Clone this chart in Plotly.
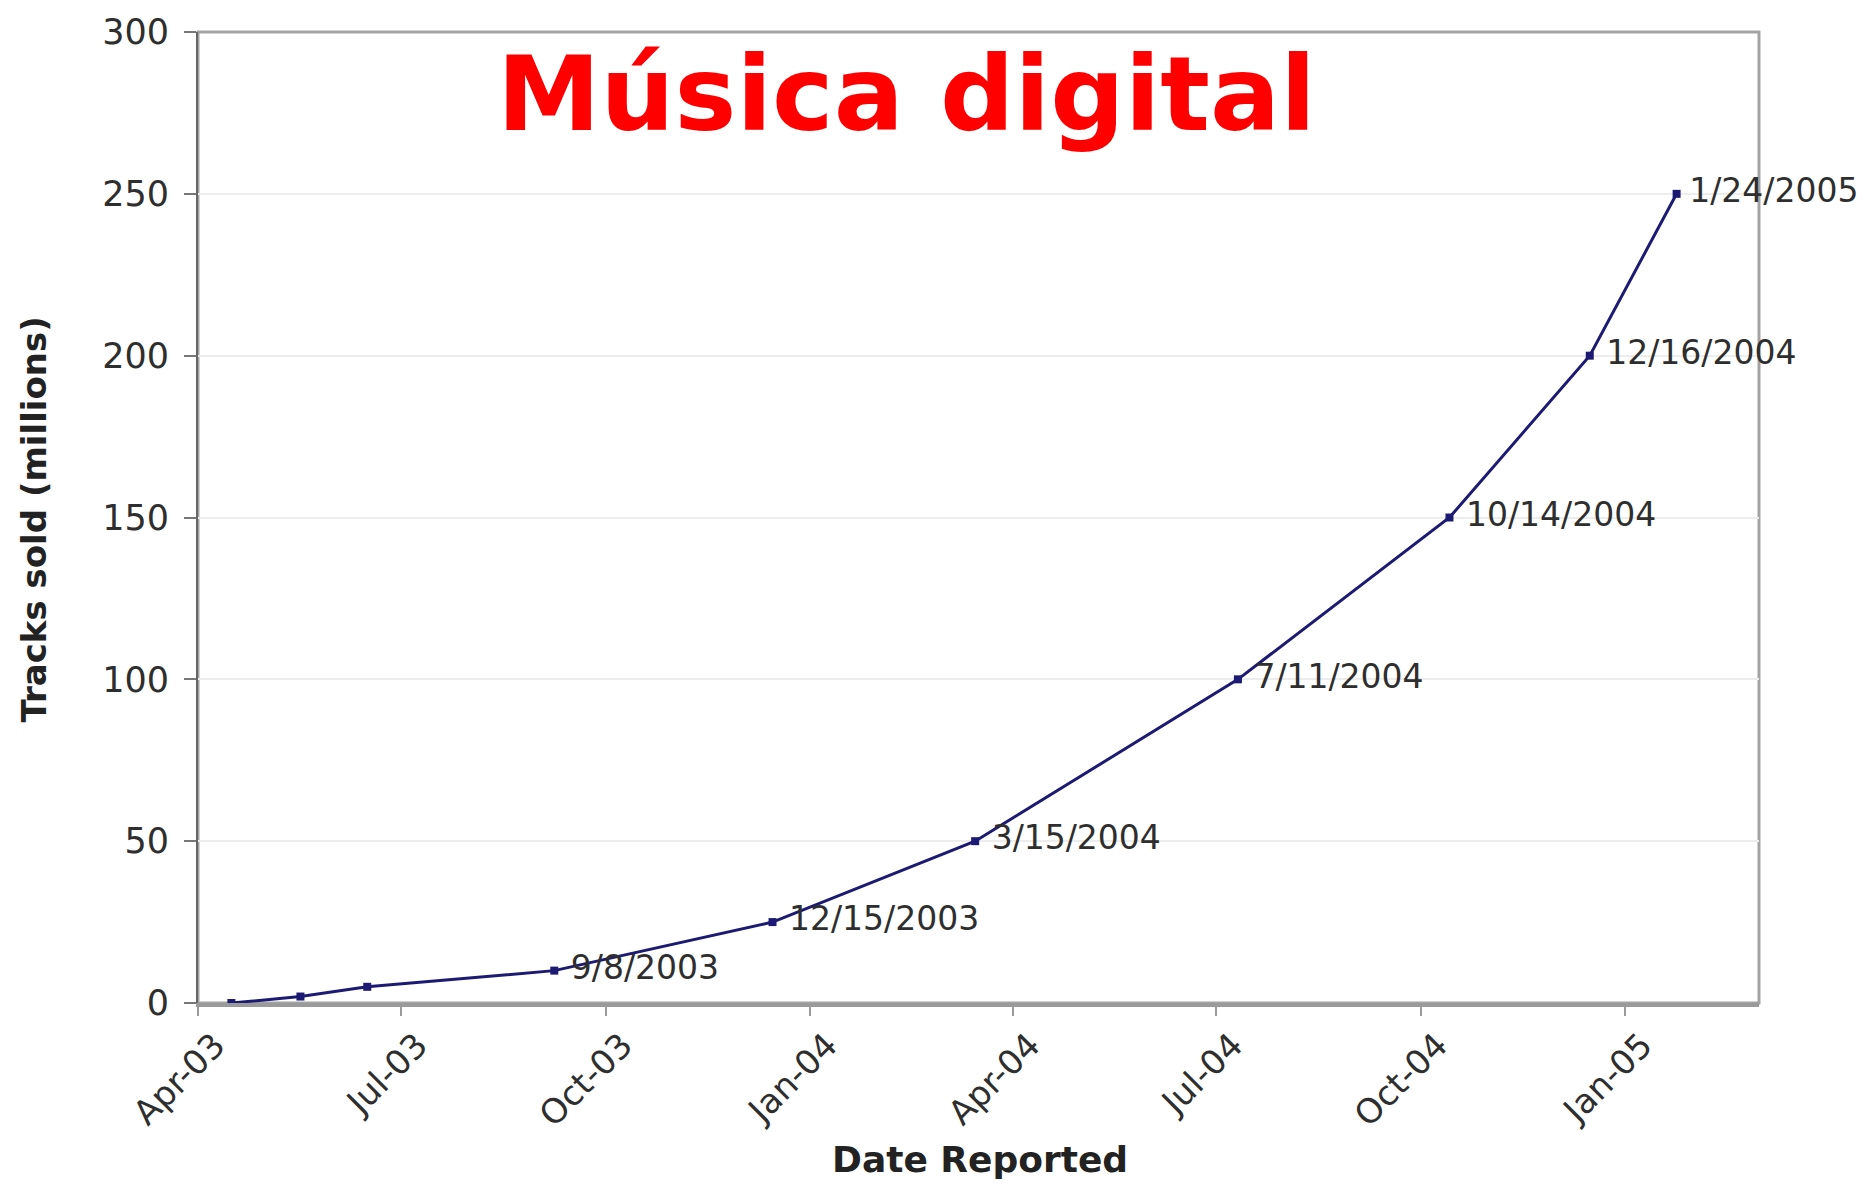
import plotly.graph_objects as go

# Cumulative tracks sold, by reporting date
dates = ["2003-04-16", "2003-05-17", "2003-06-16", "2003-09-08", "2003-12-15",
         "2004-03-15", "2004-07-11", "2004-10-14", "2004-12-16", "2005-01-24"]
tracks_millions = [0, 2, 5, 10, 25, 50, 100, 150, 200, 250]
point_labels = ["", "", "", "9/8/2003", "12/15/2003", "3/15/2004",
                "7/11/2004", "10/14/2004", "12/16/2004", "1/24/2005"]

y_ticks = [0, 50, 100, 150, 200, 250, 300]

title_text = "Música digital"
x_title = "Date Reported"
y_title = "Tracks sold (millions)"

W, H = 1864, 1184
L, R, T, B = 198, 105, 23, 181

text_color = "#2e2e2e"
line_color = "#1c1a72"
base_font = "DejaVu Sans, Verdana, sans-serif"

# labels sit one space right of their point; the last one, at the
# right edge of the frame, gets a thin space so it stays on the page
label_text = []
for i, t in enumerate(point_labels):
    if not t:
        label_text.append("")
    elif i == len(point_labels) - 1:
        label_text.append("\u2009" + t)
    else:
        label_text.append(" " + t)

fig = go.Figure()
fig.add_trace(go.Scatter(
    x=dates,
    y=tracks_millions,
    mode="lines+markers+text",
    text=label_text,
    textposition="middle right",
    textfont=dict(family=base_font, size=33, color=text_color),
    line=dict(color=line_color, width=3),
    marker=dict(symbol="square", size=8, color=line_color),
    cliponaxis=False,
    showlegend=False,
    hoverinfo="x+y",
))

fig.update_layout(
    width=W,
    height=H,
    margin=dict(l=L, r=R, t=T, b=B, pad=0),
    paper_bgcolor="white",
    plot_bgcolor="white",
    font=dict(family=base_font, size=34, color=text_color),
    xaxis=dict(
        type="date",
        range=["2003-04-01", "2005-03-02"],
        tick0="2003-04-01",
        dtick="M3",
        tickformat="%b-%y",
        tickangle=-45,
        tickfont=dict(family=base_font, size=34, color=text_color),
        ticklabelstandoff=-4,
        ticklabelshift=17,
        ticks="outside",
        ticklen=9,
        tickwidth=1.5,
        tickcolor="#9a9a9a",
        showgrid=False,
        showline=True,
        linecolor="#9a9a9a",
        linewidth=3.5,
        zeroline=False,
    ),
    yaxis=dict(
        range=[0, 300],
        tickvals=y_ticks,
        tickfont=dict(family=base_font, size=35, color=text_color),
        ticklabelstandoff=8,
        ticks="outside",
        ticklen=12,
        tickwidth=1.5,
        tickcolor="#777777",
        showgrid=True,
        gridcolor="#ededed",
        gridwidth=1.5,
        showline=True,
        linecolor="#666666",
        linewidth=2,
        zeroline=False,
    ),
    shapes=[
        dict(type="rect", xref="paper", yref="paper", x0=0, x1=1, y0=0, y1=1,
             line=dict(color="#a3a3a3", width=3), layer="below"),
    ],
    annotations=[
        dict(text=title_text, xref="paper", yref="paper", x=0.454, y=0.936,
             xanchor="center", yanchor="middle", showarrow=False,
             font=dict(family="DejaVu Sans, sans-serif",
                       size=104, color="#ff0000", weight="bold")),
        dict(text=x_title, xref="paper", yref="paper", x=0.501, y=-0.161,
             xanchor="center", yanchor="middle", showarrow=False,
             font=dict(family=base_font, size=36, color="#222222", weight="bold")),
        dict(text=y_title, xref="paper", yref="paper", x=-0.105, y=0.498,
             xanchor="center", yanchor="middle", textangle=-90, showarrow=False,
             font=dict(family=base_font, size=34, color="#222222", weight="bold")),
    ],
)

fig.write_html("out.html")
